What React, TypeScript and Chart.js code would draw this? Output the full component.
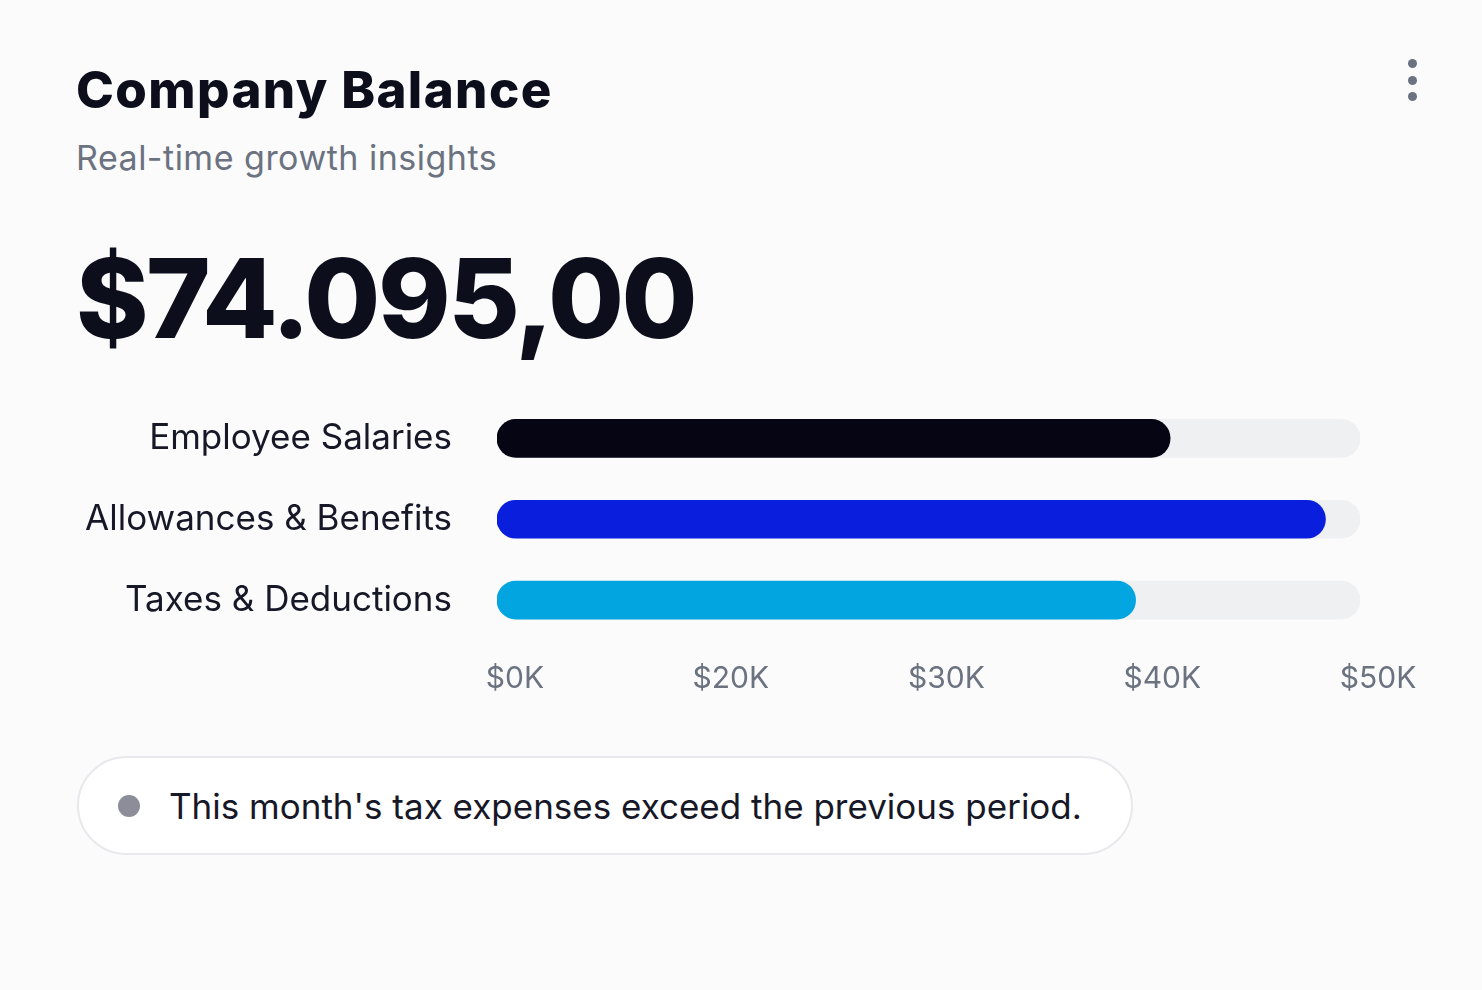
import React, { useEffect, useRef } from "react";
import { Chart, registerables } from "chart.js";

Chart.register(...registerables);

const categories = ["Employee Salaries", "Allowances & Benefits", "Taxes & Deductions"];
const values = [39, 48, 37];
const trackValues = [50, 50, 50];
const barColors = ["#050514", "#0a1fdd", "#03a5e1"];
const tickValues = [0, 12.5, 25, 37.5, 50];
const tickLabels = ["$0K", "$20K", "$30K", "$40K", "$50K"];

const FONT = "Inter, 'Noto Sans', sans-serif";

function Txt(props: { x: number; baseline: number; size: number; weight?: number; color: string; children: React.ReactNode; ls?: number }) {
  const { x, baseline, size, weight = 400, color, children, ls = 0 } = props;
  return (
    <div
      style={{
        position: "absolute",
        left: x,
        top: baseline - 0.864 * size,
        fontFamily: FONT,
        fontSize: size,
        fontWeight: weight,
        lineHeight: 1,
        color,
        whiteSpace: "nowrap",
        letterSpacing: ls,
      }}
    >
      {children}
    </div>
  );
}

const CANVAS_TOP = 331.5;
const CANVAS_H = 379;

export default function App() {
  const ref = useRef<HTMLCanvasElement | null>(null);

  useEffect(() => {
    if (!ref.current) return;
    const chart = new Chart(ref.current, {
      type: "bar",
      data: {
        labels: categories,
        datasets: [
          {
            data: values,
            backgroundColor: barColors,
            borderRadius: 19,
            borderSkipped: false,
            barThickness: 38,
            grouped: false,
          } as any,
          {
            data: trackValues,
            backgroundColor: "#eff0f2",
            borderRadius: 19,
            borderSkipped: false,
            barThickness: 38,
            grouped: false,
          } as any,
        ],
      },
      options: {
        indexAxis: "y",
        animation: false,
        responsive: false,
        maintainAspectRatio: false,
        layout: { padding: { top: 16.5, right: 80, bottom: 14.5, left: 0 } },
        plugins: { legend: { display: false }, tooltip: { enabled: false } },
        scales: {
          x: {
            min: 0,
            max: 50,
            grid: { display: false, drawTicks: false },
            border: { display: false },
            afterBuildTicks: (scale: any) => {
              scale.ticks = tickValues.map((v) => ({ value: v }));
            },
            afterFit: (scale: any) => {
              scale.height = 56;
            },
            ticks: {
              autoSkip: false,
              maxRotation: 0,
              padding: 20,
              labelOffset: 18,
              color: "#6b7280",
              font: { family: FONT, size: 30 },
              callback: (_v: any, i: number) => tickLabels[i],
            },
          },
          y: {
            grid: { display: false, drawTicks: false },
            border: { display: false },
            afterFit: (scale: any) => {
              scale.width = 437;
            },
            ticks: {
              padding: 45,
              color: "#161827",
              font: { family: FONT, size: 35 },
            },
          },
        },
      },
    });
    return () => chart.destroy();
  }, []);

  return (
    <div style={{ position: "fixed", left: 0, top: 0, width: 1482, height: 990, background: "#fbfbfc", overflow: "hidden" }}>
      <Txt x={76} baseline={108} size={51} weight={800} color="#0d0e1c" ls={1.4}>Company Balance</Txt>
      <Txt x={76} baseline={170} size={34} weight={400} color="#6b7280" ls={0.5}>Real-time growth insights</Txt>
      <Txt x={76} baseline={338} size={110} weight={800} color="#0d0e1c" ls={-2.5}>$74.095,00</Txt>
      {[63, 80, 96].map((y) => (
        <div key={y} style={{ position: "absolute", left: 1412 - 4.5, top: y - 4.5, width: 9, height: 9, borderRadius: 5, background: "#6b7280" }} />
      ))}
      <canvas ref={ref} width={1380} height={CANVAS_H} style={{ position: "absolute", left: 60, top: CANVAS_TOP, width: 1380, height: CANVAS_H }} />
      <div
        style={{
          position: "absolute",
          left: 77,
          top: 756,
          width: 1056,
          height: 99,
          boxSizing: "border-box",
          border: "2px solid #e8e9ec",
          borderRadius: 50,
          background: "#ffffff",
        }}
      />
      <div style={{ position: "absolute", left: 129 - 11, top: 806 - 11, width: 22, height: 22, borderRadius: 11, background: "#8b8d98" }} />
      <Txt x={169} baseline={819} size={35} weight={400} color="#161827">This month's tax expenses exceed the previous period.</Txt>
    </div>
  );
}
